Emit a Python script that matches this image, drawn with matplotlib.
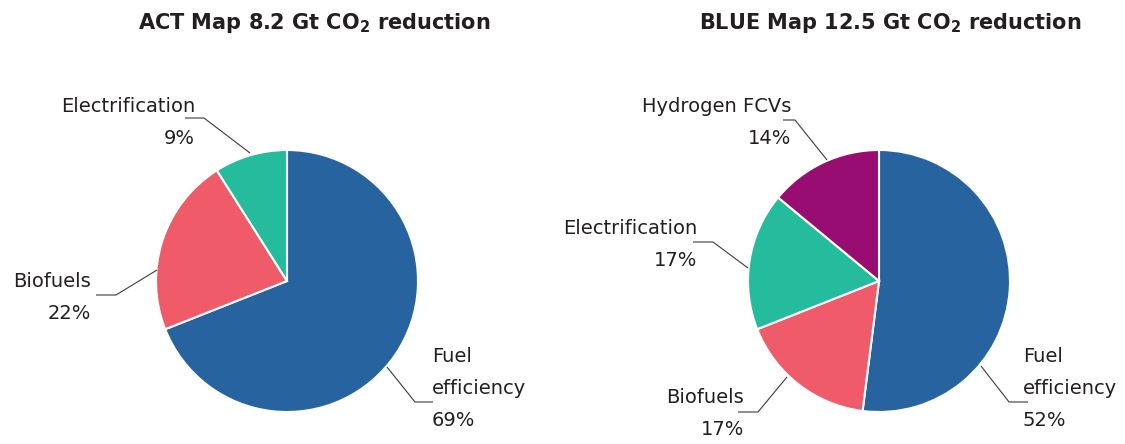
import matplotlib
matplotlib.use("Agg")
import matplotlib.pyplot as plt

plt.rcParams["mathtext.fontset"] = "dejavusans"

W, H = 1125, 444

# data
act_categories = ["Fuel\nefficiency", "Biofuels", "Electrification"]
act_values = [69, 22, 9]
blue_categories = ["Fuel\nefficiency", "Biofuels", "Electrification", "Hydrogen FCVs"]
blue_values = [52, 17, 17, 14]
act_title = r"ACT Map 8.2 Gt CO$_{\mathbf{2}}$ reduction"
blue_title = r"BLUE Map 12.5 Gt CO$_{\mathbf{2}}$ reduction"

# styles / layout (pixel coords, y from top)
colors = ["#26639f", "#ef5b69", "#24bc9c", "#970d72"]
text_color = "#231f20"
line_color = "#3a3a3a"
radius = 131
act_center = (287, 281)
blue_center = (879, 281)

# label anchor: (x, first baseline, ha)
act_text_pos = [(432, 362, "left"), (91, 287, "right"), (195, 112, "right")]
blue_text_pos = [(1023, 362, "left"), (744, 403, "right"), (697, 234, "right"), (791, 112, "right")]
act_leaders = [
    [(387, 367), (415, 402), (433, 402)],
    [(157, 270), (116, 295), (96, 295)],
    [(250, 153), (204, 118), (185, 118)],
]
blue_leaders = [
    [(981, 366), (1009, 402), (1028, 402)],
    [(787, 377), (758, 412), (738, 412)],
    [(748, 268), (713, 242), (693, 242)],
    [(827, 160), (795, 120), (783, 120)],
]
line_step = 32


def py(y):
    return H - y


def draw_pie(ax, values, categories, center, text_pos, leaders, title, title_x):
    ax.pie(values, colors=colors[:len(values)], startangle=90, counterclock=False,
           center=(center[0], py(center[1])), radius=radius,
           wedgeprops=dict(edgecolor="white", linewidth=1.5))
    for cat, val, (tx, ty, ha), pts in zip(categories, values, text_pos, leaders):
        lines = cat.split("\n") + [f"{val}%"]
        for i, s in enumerate(lines):
            ax.text(tx, py(ty + i * line_step), s, ha=ha, va="baseline",
                    fontsize=14, color=text_color)
        ax.plot([p[0] for p in pts], [py(p[1]) for p in pts], color=line_color, lw=0.8,
                solid_capstyle="butt")
    ax.text(title_x, py(29), title, ha="center", va="baseline", fontsize=15,
            fontweight="bold", color=text_color)


fig = plt.figure(figsize=(W / 100, H / 100), dpi=100)
ax = fig.add_axes([0, 0, 1, 1])

draw_pie(ax, act_values, act_categories, act_center, act_text_pos, act_leaders, act_title, 314)
draw_pie(ax, blue_values, blue_categories, blue_center, blue_text_pos, blue_leaders, blue_title, 890)

ax.set_xlim(0, W)
ax.set_ylim(0, H)
ax.set_aspect("equal")
ax.axis("off")

fig.savefig("out.png", dpi=100)
